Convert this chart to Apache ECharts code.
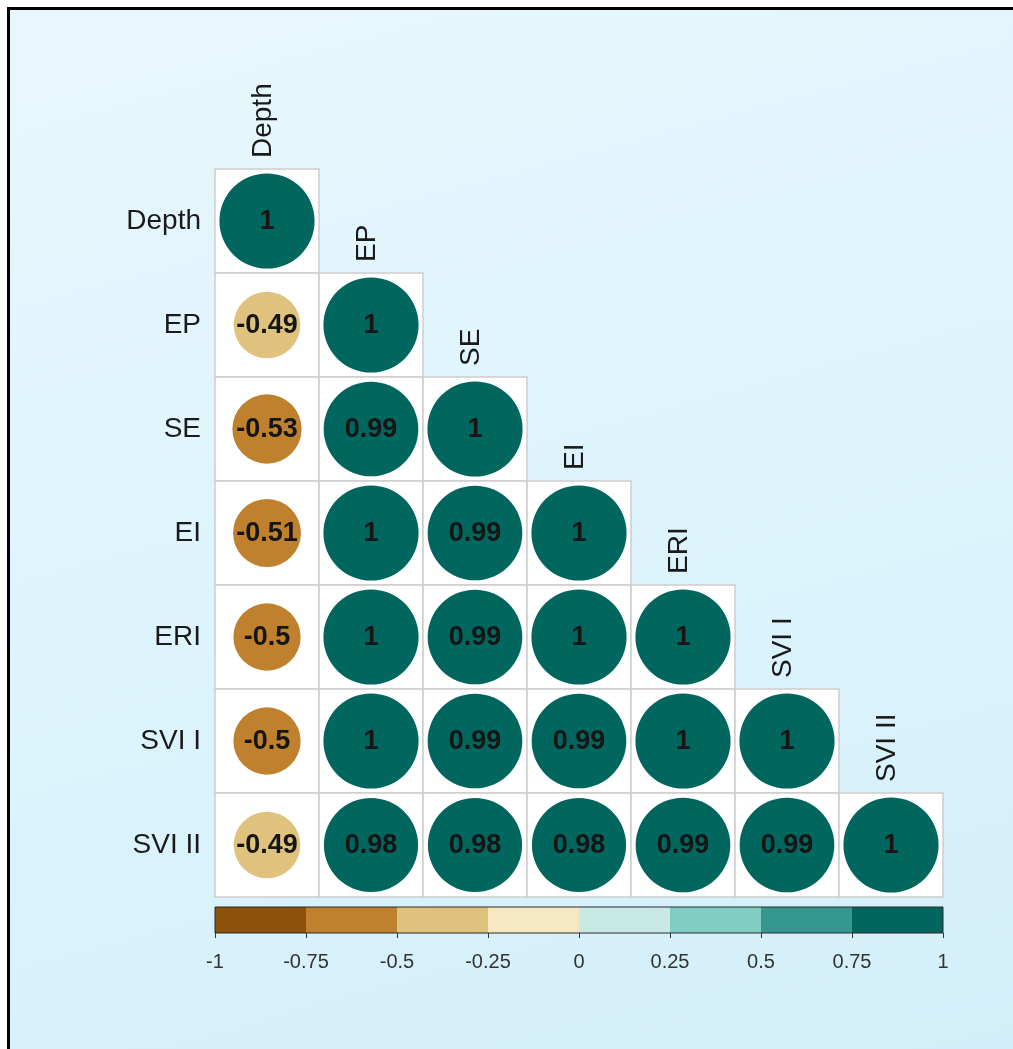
<!DOCTYPE html>
<html>
<head>
<meta charset="utf-8">
<script src="https://cdn.jsdelivr.net/npm/echarts@6/dist/echarts.min.js"></script>
<style>
  html, body { margin: 0; padding: 0; background: #ffffff; width: 1013px; height: 1049px; overflow: hidden; }
  #frame {
    position: absolute; left: 7px; top: 7px; width: 1100px; height: 1100px;
    border: 3px solid #000000;
    background: linear-gradient(165deg, #E8F7FD 0%, #DDF4FC 50%, #D1EEFA 100%);
  }
  #chart { position: absolute; left: 0; top: 0; width: 1013px; height: 1049px; }
</style>
</head>
<body>
<div id="frame"></div>
<div id="chart"></div>
<script>
// Variables of the correlation matrix (row/column order)
const variables = ['Depth', 'EP', 'SE', 'EI', 'ERI', 'SVI I', 'SVI II'];

// Lower triangle of the correlation matrix, one row per variable
const rowDepth = [1];
const rowEP    = [-0.49, 1];
const rowSE    = [-0.53, 0.99, 1];
const rowEI    = [-0.51, 1, 0.99, 1];
const rowERI   = [-0.5, 1, 0.99, 1, 1];
const rowSVI1  = [-0.5, 1, 0.99, 0.99, 1, 1];
const rowSVI2  = [-0.49, 0.98, 0.98, 0.98, 0.99, 0.99, 1];
const corrRows = [rowDepth, rowEP, rowSE, rowEI, rowERI, rowSVI1, rowSVI2];

// Colour scale: break points and BrBG palette for each interval
const breaks  = [-1, -0.75, -0.5, -0.25, 0, 0.25, 0.5, 0.75, 1];
const palette = ['#8C510A', '#BF812D', '#DFC27D', '#F6E8C3', '#C7EAE5', '#80CDC1', '#35978F', '#01665E'];

// [column, row, r] triples for the lower triangle
const cells = [];
corrRows.forEach((row, r) => row.forEach((v, c) => cells.push([c, r, v])));

// Colour-bar segments [from, to, paletteIndex]
const segments = [];
for (let i = 0; i < breaks.length - 1; i++) segments.push([breaks[i], breaks[i + 1], i]);

// Piecewise mapping: upper bound of each negative bin is inclusive
const pieces = palette.map((color, i) => {
  const lo = breaks[i], hi = breaks[i + 1];
  if (hi <= 0) return { gt: lo, lte: hi, color };
  return { gte: lo, lt: hi, color };
});
pieces[0] = { gte: -1, lte: -0.75, color: palette[0] };
pieces[palette.length - 1] = { gte: 0.75, lte: 1, color: palette[palette.length - 1] };

const FONT = '"Liberation Sans", Arial, Helvetica, sans-serif';

const chart = echarts.init(document.getElementById('chart'), null, { renderer: 'canvas' });

const option = {
  backgroundColor: 'transparent',
  animation: false,
  grid: [
    { left: 215, top: 169, width: 728, height: 728, containLabel: false, outerBoundsMode: 'none' },
    { left: 215, top: 907, width: 728, height: 26, containLabel: false, outerBoundsMode: 'none' }
  ],
  xAxis: [
    {
      gridIndex: 0, type: 'category', data: variables, show: false
    },
    {
      gridIndex: 1, type: 'value', min: -1, max: 1, interval: 0.25,
      position: 'bottom',
      axisLine: { show: false },
      axisTick: { show: true, length: 5, lineStyle: { color: '#333333', width: 1 } },
      splitLine: { show: false },
      axisLabel: {
        show: true, margin: 19, color: '#333333', fontSize: 20, fontFamily: FONT,
        formatter: v => String(Math.round(v * 100) / 100)
      }
    }
  ],
  yAxis: [
    {
      gridIndex: 0, type: 'category', data: variables, inverse: true,
      axisLine: { show: false }, axisTick: { show: false }, splitLine: { show: false },
      axisLabel: { margin: 14, color: '#1a1a1a', fontSize: 28, fontFamily: FONT }
    },
    {
      gridIndex: 1, type: 'value', min: 0, max: 1, show: false
    }
  ],
  visualMap: {
    type: 'piecewise', show: false, dimension: 2, seriesIndex: 1, pieces: pieces
  },
  series: [
    // white cell backgrounds with grey borders
    {
      type: 'custom', xAxisIndex: 0, yAxisIndex: 0, z: 1,
      data: cells,
      renderItem: function (params, api) {
        const c = api.coord([api.value(0), api.value(1)]);
        const s = api.size([1, 1]);
        return {
          type: 'rect',
          shape: { x: c[0] - s[0] / 2, y: c[1] - s[1] / 2, width: s[0], height: s[1] },
          style: { fill: '#ffffff', stroke: '#cdcdcd', lineWidth: 1.5 }
        };
      }
    },
    // circles sized by |r| with the coefficient printed inside
    {
      type: 'custom', xAxisIndex: 0, yAxisIndex: 0, z: 3,
      data: cells,
      renderItem: function (params, api) {
        const v = api.value(2);
        const c = api.coord([api.value(0), api.value(1)]);
        const s = api.size([1, 1]);
        const radius = s[0] / 2 * 0.915 * Math.sqrt(Math.abs(v));
        return {
          type: 'group',
          children: [
            { type: 'circle', shape: { cx: c[0], cy: c[1], r: radius }, style: { fill: api.visual('color') } },
            {
              type: 'text', x: c[0], y: c[1] + 1,
              style: {
                text: String(v), fill: '#151515', fontSize: 27, fontWeight: 'bold', fontFamily: FONT,
                align: 'center', verticalAlign: 'middle'
              }
            }
          ]
        };
      }
    },
    // vertical column labels above the diagonal
    {
      type: 'custom', xAxisIndex: 0, yAxisIndex: 0, z: 3,
      data: variables.map((name, i) => [i, i]),
      renderItem: function (params, api) {
        const c = api.coord([api.value(0), api.value(1)]);
        const s = api.size([1, 1]);
        return {
          type: 'text', x: c[0] - 4, y: c[1] - s[1] / 2 - 11, rotation: Math.PI / 2,
          style: {
            text: variables[params.dataIndex], fill: '#1a1a1a', fontSize: 28, fontFamily: FONT,
            align: 'left', verticalAlign: 'middle'
          }
        };
      }
    },
    // colour bar segments
    {
      type: 'custom', xAxisIndex: 1, yAxisIndex: 1, z: 2,
      data: segments,
      renderItem: function (params, api) {
        const p0 = api.coord([api.value(0), 1]);
        const p1 = api.coord([api.value(1), 0]);
        return {
          type: 'rect',
          shape: { x: p0[0], y: p0[1], width: p1[0] - p0[0], height: p1[1] - p0[1] },
          style: { fill: palette[api.value(2)], stroke: null }
        };
      }
    },
    // colour bar outline
    {
      type: 'custom', xAxisIndex: 1, yAxisIndex: 1, z: 3,
      data: [[breaks[0], breaks[breaks.length - 1]]],
      renderItem: function (params, api) {
        const p0 = api.coord([api.value(0), 1]);
        const p1 = api.coord([api.value(1), 0]);
        return {
          type: 'rect',
          shape: { x: p0[0], y: p0[1], width: p1[0] - p0[0], height: p1[1] - p0[1] },
          style: { fill: null, stroke: '#2a2a2a', lineWidth: 1 }
        };
      }
    }
  ]
};

chart.setOption(option);
</script>
</body>
</html>
